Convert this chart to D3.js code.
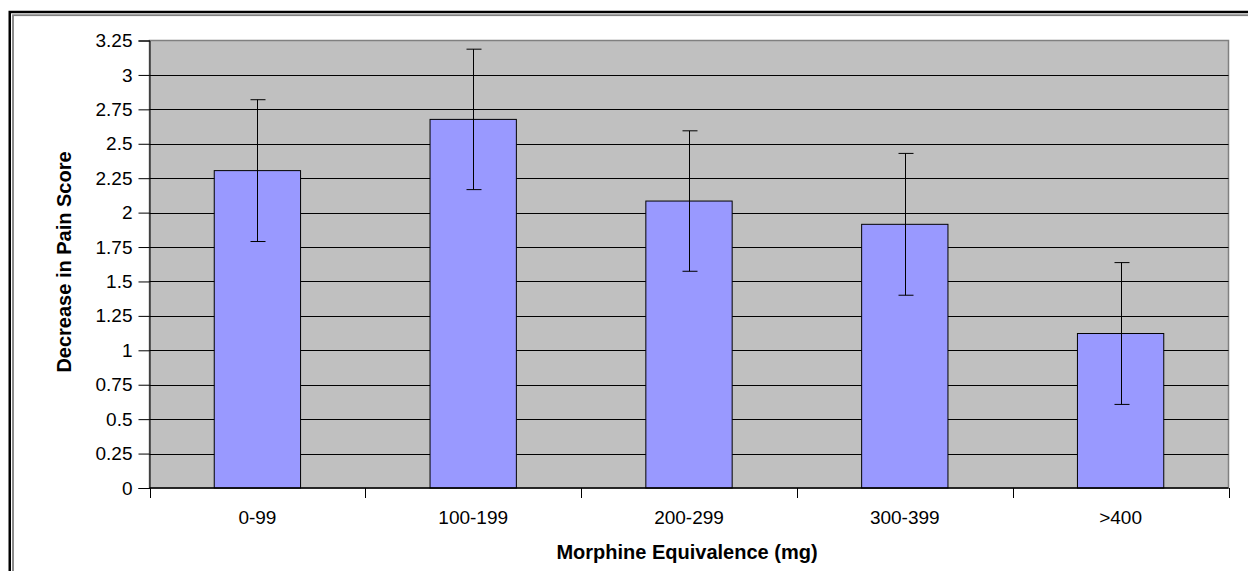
<!DOCTYPE html>
<html><head><meta charset="utf-8">
<script src="https://cdn.jsdelivr.net/npm/d3@7"></script>
<style>body{margin:0;background:#fff;} text{font-family:"Liberation Sans",Arial,sans-serif;}</style>
</head><body>
<svg id="c" width="1248" height="571"></svg>
<script>
const categories = ["0-99", "100-199", "200-299", "300-399", ">400"];
const values = [2.305, 2.677, 2.084, 1.915, 1.122];
const errors = [0.515, 0.51, 0.51, 0.515, 0.515];
const yTicks = [0, 0.25, 0.5, 0.75, 1, 1.25, 1.5, 1.75, 2, 2.25, 2.5, 2.75, 3, 3.25];
const yTickLabels = ["0", "0.25", "0.5", "0.75", "1", "1.25", "1.5", "1.75", "2", "2.25", "2.5", "2.75", "3", "3.25"];
const xTitle = "Morphine Equivalence (mg)";
const yTitle = "Decrease in Pain Score";

const FONT = "Liberation Sans, Arial, sans-serif";
const svg = d3.select("#c");
// outer double frame
svg.append("rect").attr("x", 9.75).attr("y", 12).attr("width", 1260).attr("height", 600)
  .attr("fill", "none").attr("stroke", "#000").attr("stroke-width", 2.5);
svg.append("rect").attr("x", 13).attr("y", 15.2).attr("width", 1260).attr("height", 600)
  .attr("fill", "none").attr("stroke", "#808080").attr("stroke-width", 1.8);

const L = 149.5, R = 1228.5, T = 40.5, B = 488;
const x = d3.scaleBand().domain(categories).range([L, R]).paddingInner(0.6).paddingOuter(0.3);
const xb = d3.scaleBand().domain(categories).range([L, R]);
const y = d3.scaleLinear().domain([0, 3.25]).range([B, T]);

svg.append("rect").attr("x", L).attr("y", T).attr("width", R - L).attr("height", B - T)
  .attr("fill", "#C0C0C0").attr("stroke", "#808080").attr("stroke-width", 1.5);

// gridlines
svg.append("g").selectAll("line").data(yTicks.filter(d => d > 0 && d < 3.25)).join("line")
  .attr("x1", L).attr("x2", R)
  .attr("y1", d => Math.round(y(d)) + 0.5).attr("y2", d => Math.round(y(d)) + 0.5)
  .attr("stroke", "#000").attr("stroke-width", 1);

// bars
svg.append("g").selectAll("rect").data(values).join("rect")
  .attr("x", (d, i) => x(categories[i]))
  .attr("width", x.bandwidth())
  .attr("y", d => y(d))
  .attr("height", d => B - y(d))
  .attr("fill", "#9999FF").attr("stroke", "#000").attr("stroke-width", 1);

// error bars
const eg = svg.append("g").attr("stroke", "#000").attr("stroke-width", 1);
values.forEach((v, i) => {
  const cx = Math.round(x(categories[i]) + x.bandwidth() / 2) + 0.5;
  const top = y(v + errors[i]), bot = y(v - errors[i]);
  eg.append("line").attr("x1", cx).attr("x2", cx).attr("y1", top).attr("y2", bot);
  eg.append("line").attr("x1", cx - 7).attr("x2", cx + 8).attr("y1", top).attr("y2", top);
  eg.append("line").attr("x1", cx - 7).attr("x2", cx + 8).attr("y1", bot).attr("y2", bot);
});

// y axis
const ya = d3.axisLeft(y).tickValues(yTicks).tickFormat((d, i) => yTickLabels[i]).tickSize(11).tickPadding(6);
const yg = svg.append("g").attr("transform", `translate(${L},0)`).call(ya);
yg.attr("font-family", FONT).attr("font-size", 19);
yg.select(".domain").attr("stroke", "#000");
yg.selectAll("text").attr("fill", "#000");

// x axis line & ticks
const xg = svg.append("g");
xg.append("line").attr("x1", L).attr("x2", R).attr("y1", B).attr("y2", B).attr("stroke", "#000").attr("stroke-width", 1.5);
const bounds = categories.map(c => xb(c)).concat([R]);
xg.selectAll("line.t").data(bounds).join("line").attr("class", "t")
  .attr("x1", d => Math.round(d) + 0.5).attr("x2", d => Math.round(d) + 0.5)
  .attr("y1", B).attr("y2", B + 10).attr("stroke", "#000");
xg.selectAll("text").data(categories).join("text")
  .attr("x", d => xb(d) + xb.bandwidth() / 2).attr("y", 524)
  .attr("text-anchor", "middle").attr("font-size", 19).text(d => d);

svg.append("text").attr("x", 687).attr("y", 559).attr("text-anchor", "middle")
  .attr("font-size", 20).attr("font-weight", "bold").text(xTitle);
svg.append("text").attr("transform", `translate(71,262) rotate(-90)`)
  .attr("text-anchor", "middle").attr("font-size", 20).attr("font-weight", "bold").text(yTitle);
</script>
</body></html>
